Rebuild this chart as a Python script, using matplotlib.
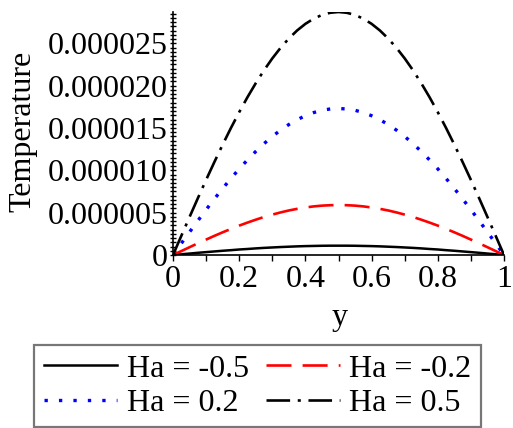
import numpy as np
import matplotlib
matplotlib.use('Agg')
from matplotlib import pyplot as plt
from matplotlib.ticker import MultipleLocator, FixedLocator, FixedFormatter

plt.rcParams['font.family'] = ['Liberation Serif', 'DejaVu Serif']
plt.rcParams['lines.scale_dashes'] = False

# values (temperature x 1e-6), y from 0 to 1 step 0.025
y_pos = [0, 0.025, 0.05, 0.075, 0.1, 0.125, 0.15, 0.175, 0.2, 0.225, 0.25,
         0.275, 0.3, 0.325, 0.35, 0.375, 0.4, 0.425, 0.45, 0.475, 0.5,
         0.525, 0.55, 0.575, 0.6, 0.625, 0.65, 0.675, 0.7, 0.725, 0.75,
         0.775, 0.8, 0.825, 0.85, 0.875, 0.9, 0.925, 0.95, 0.975, 1.0]
t_ha_m05 = [0, 0.09, 0.17, 0.26, 0.34, 0.42, 0.50, 0.57, 0.65, 0.71, 0.78,
            0.84, 0.89, 0.94, 0.98, 1.02, 1.05, 1.07, 1.09, 1.10, 1.10,
            1.10, 1.09, 1.07, 1.05, 1.02, 0.98, 0.94, 0.89, 0.84, 0.78,
            0.71, 0.65, 0.57, 0.50, 0.42, 0.34, 0.26, 0.17, 0.09, 0]
t_ha_m02 = [0, 0.46, 0.92, 1.38, 1.82, 2.26, 2.68, 3.08, 3.47, 3.83, 4.17,
            4.49, 4.77, 5.03, 5.26, 5.45, 5.61, 5.74, 5.83, 5.88, 5.90,
            5.88, 5.83, 5.74, 5.61, 5.45, 5.26, 5.03, 4.77, 4.49, 4.17,
            3.83, 3.47, 3.08, 2.68, 2.26, 1.82, 1.38, 0.92, 0.46, 0]
t_ha_02 = [0, 1.36, 2.71, 4.04, 5.35, 6.62, 7.85, 9.04, 10.17, 11.23, 12.23,
           13.15, 14.0, 14.75, 15.41, 15.98, 16.45, 16.82, 17.09, 17.25, 17.3,
           17.25, 17.09, 16.82, 16.45, 15.98, 15.41, 14.75, 14.0, 13.15, 12.23,
           11.23, 10.17, 9.04, 7.85, 6.62, 5.35, 4.04, 2.71, 1.36, 0]
t_ha_05 = [0, 2.25, 4.49, 6.70, 8.87, 10.98, 13.03, 15.00, 16.87, 18.64, 20.29,
           21.82, 23.22, 24.47, 25.57, 26.52, 27.30, 27.91, 28.35, 28.61, 28.7,
           28.61, 28.35, 27.91, 27.30, 26.52, 25.57, 24.47, 23.22, 21.82, 20.29,
           18.64, 16.87, 15.00, 13.03, 10.98, 8.87, 6.70, 4.49, 2.25, 0]

series_labels = ['Ha = -0.5', 'Ha = -0.2', 'Ha = 0.2', 'Ha = 0.5']

xticks = [0, 0.2, 0.4, 0.6, 0.8, 1.0]
xtick_labels = ['0', '0.2', '0.4', '0.6', '0.8', '1']
yticks = [0, 5e-6, 10e-6, 15e-6, 20e-6, 25e-6]
ytick_labels = ['0', '0.000005', '0.000010', '0.000015', '0.000020', '0.000025']

fs = 23
fig = plt.figure(figsize=(5.13, 4.28), dpi=100)
ax = fig.add_axes([173/513, 1 - 255/428, 331/513, 243/428])

x = np.array(y_pos)
l1, = ax.plot(x, np.array(t_ha_m05) * 1e-6, color='black', lw=1.8)
l2, = ax.plot(x, np.array(t_ha_m02) * 1e-6, color='#ff0000', lw=1.9,
              linestyle=(0, (18, 8)))
l3, = ax.plot(x, np.array(t_ha_02) * 1e-6, color='#0000ff', lw=2.4,
              linestyle=(0, (2.4, 8)))
l4, = ax.plot(x, np.array(t_ha_05) * 1e-6, color='black', lw=1.9,
              linestyle=(0, (17, 5.5, 2.2, 5.5)))

ax.set_xlim(0, 1)
ax.set_ylim(0, 2.87e-5)
for s in ['top', 'right']:
    ax.spines[s].set_visible(False)
for s in ['left', 'bottom']:
    ax.spines[s].set_linewidth(1.2)

ax.xaxis.set_major_locator(FixedLocator(xticks))
ax.xaxis.set_major_formatter(FixedFormatter(xtick_labels))
ax.xaxis.set_minor_locator(MultipleLocator(0.1))
ax.yaxis.set_major_locator(FixedLocator(yticks))
ax.yaxis.set_major_formatter(FixedFormatter(ytick_labels))
ax.yaxis.set_minor_locator(MultipleLocator(5e-7))

ax.tick_params(axis='x', which='both', direction='out', length=4, width=1,
               labelsize=fs, pad=3)
ax.tick_params(axis='y', which='both', direction='inout', length=4, width=1,
               labelsize=fs, pad=2)

fig.text(23/513, 1 - 131/428, 'Temperature', rotation=90, ha='center',
         va='center', fontsize=fs)
fig.text(340/513, 1 - 318/428, 'y', ha='center', va='center', fontsize=fs)

leg = fig.legend([l1, l3, l2, l4],
                 [series_labels[0], series_labels[2], series_labels[1], series_labels[3]],
                 ncol=2, loc='center', bbox_to_anchor=(257.5/513, 1 - 386/428),
                 fontsize=fs, frameon=True, fancybox=False, edgecolor='#555555',
                 handlelength=2.3, handletextpad=0.3, columnspacing=0.55,
                 labelspacing=0.15, borderpad=0.3, borderaxespad=0)
leg.get_frame().set_linewidth(1.6)

fig.savefig('out.png', dpi=100, facecolor='white')
